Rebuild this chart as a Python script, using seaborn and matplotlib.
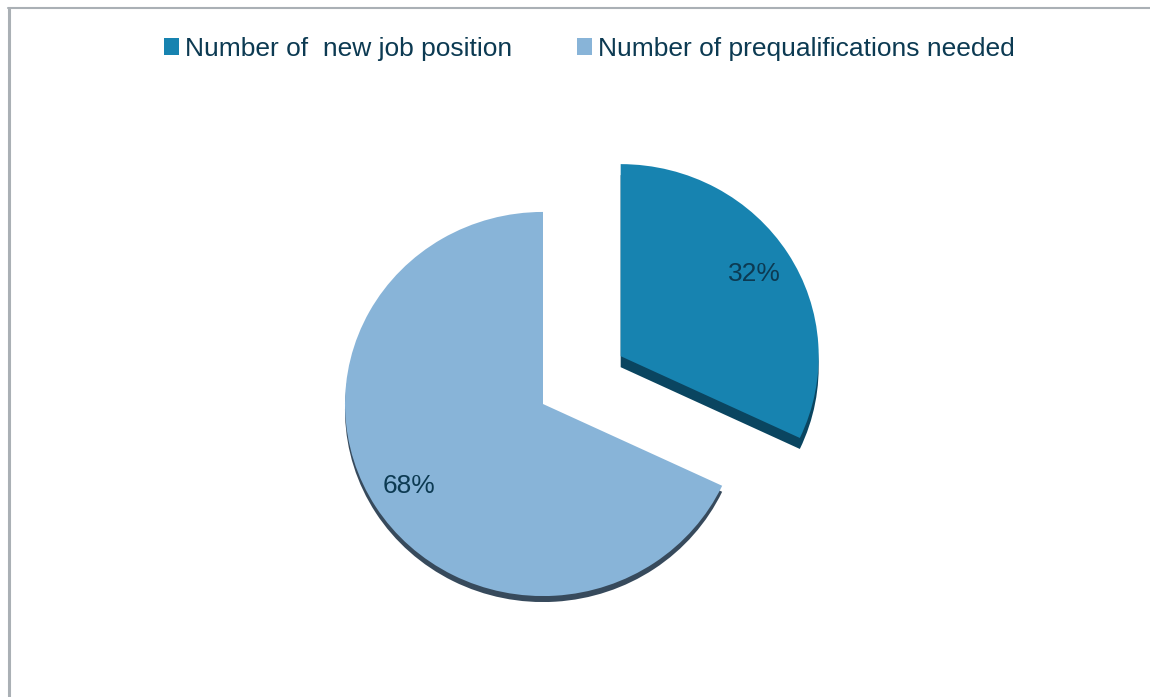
import matplotlib
matplotlib.use("Agg")
import matplotlib.pyplot as plt
from matplotlib.patches import Patch
from matplotlib.lines import Line2D
import seaborn as sns

categories = ["Number of  new job position", "Number of prequalifications needed"]
shares = [32, 68]
slice_colors = ["#1783b0", "#88b4d8"]
side_colors = ["#0a4560", "#374a5c"]

sns.set_theme(style="white")
plt.rcParams["font.family"] = ["Liberation Sans", "DejaVu Sans"]
text_color = "#0c3a52"

W, H = 1150, 697
fig = plt.figure(figsize=(W / 100, H / 100), dpi=100)
fig.patch.set_facecolor("white")
ax = fig.add_axes([0, 0, 1, 1])

# slight vertical squash gives the pie its tilted look
tilt = 0.97
cx, cy, R = 543, (H - 404) / tilt, 198
# pie offsets are in data units here (about one unit per pixel)
explode = [92, 0]
wedge_style = dict(edgecolor="none", linewidth=0)

# darker copies underneath give the slices a raised edge
side_offsets = [11 / tilt, 6 / tilt]
for i in range(2):
    w, _ = ax.pie(shares, center=(cx, cy - side_offsets[i]), radius=R,
                  startangle=90, counterclock=False, explode=explode,
                  colors=slice_colors, wedgeprops=wedge_style, frame=True)
    for j, wedge in enumerate(w):
        if j == i:
            wedge.set_facecolor(side_colors[i])
            wedge.set_zorder(1)
        else:
            wedge.set_visible(False)

wedges, _, autotexts = ax.pie(shares, center=(cx, cy), radius=R,
                              startangle=90, counterclock=False, explode=explode,
                              colors=slice_colors, autopct="%d%%", pctdistance=0.8,
                              wedgeprops=wedge_style,
                              textprops=dict(color=text_color, fontsize=19),
                              frame=True)
for wdg in wedges:
    wdg.set_zorder(2)
for t in autotexts:
    t.set_zorder(3)
ax.set_xlim(0, W)
ax.set_ylim(0, H / tilt)
ax.set_aspect("auto")
ax.axis("off")

handles = [Patch(facecolor=c, edgecolor="none") for c in slice_colors]
fig.legend(handles, categories, loc="center", bbox_to_anchor=(589 / W, 1 - 49 / H),
           ncol=2, frameon=False, fontsize=19, handlelength=0.6, handleheight=0.6,
           handletextpad=0.2, columnspacing=2.45, labelcolor=text_color)

# thin frame along the top and left edges
frame_color = "#aab0b5"
fig.add_artist(Line2D([8.5 / W, 8.5 / W], [0, 1 - 8 / H], color=frame_color, lw=2.2,
                      transform=fig.transFigure))
fig.add_artist(Line2D([8 / W, 1], [1 - 8 / H, 1 - 8 / H], color=frame_color, lw=1.5,
                      transform=fig.transFigure))

fig.savefig("out.png", dpi=100, facecolor="white")
